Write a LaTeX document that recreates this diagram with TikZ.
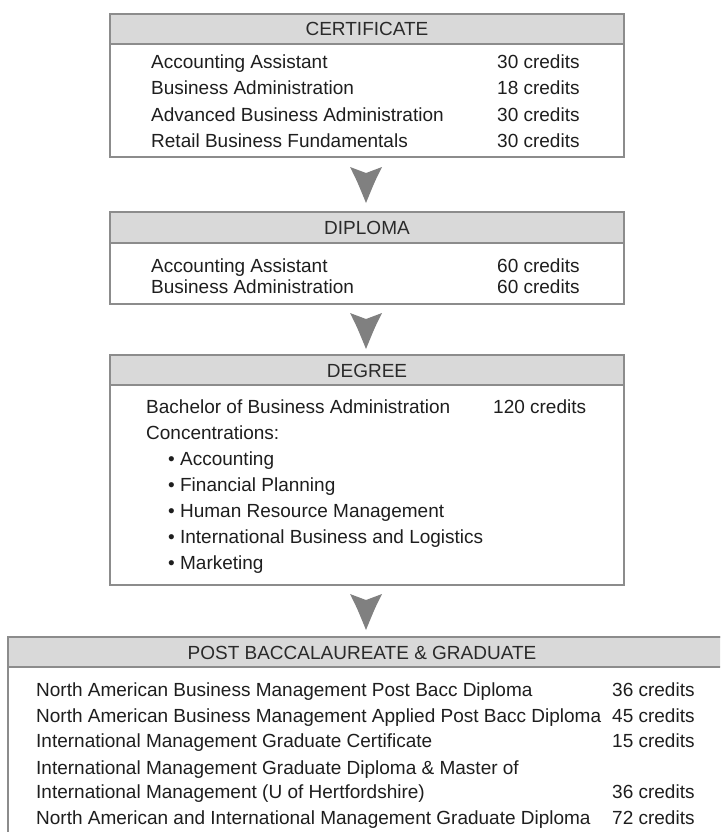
\documentclass[tikz,border=0pt]{standalone}
\usepackage{fontspec}
\setmainfont{Liberation Sans}
\usetikzlibrary{calc}
\definecolor{bordc}{HTML}{8C8C8C}
\definecolor{hdrc}{HTML}{D9D9D9}
\definecolor{txtc}{HTML}{1E1E1E}
\definecolor{ttlc}{HTML}{2A2A2A}
\definecolor{arrc}{HTML}{808080}
\tikzset{
  box/.style={draw=bordc, line width=1.5pt, fill=white, anchor=north west, inner sep=0pt, outer sep=0pt},
  hdr/.style={draw=bordc, line width=1.5pt, fill=hdrc, anchor=north west, inner sep=0pt, outer sep=0pt, minimum height=30pt},
  txt/.style={anchor=base west, inner sep=0pt, text=txtc},
  ttl/.style={anchor=base, inner sep=0pt, text=ttlc},
  chev/.pic={\fill[arrc] (-16,0) -- (0,6) -- (16,0) .. controls (9,14) .. (0,36) .. controls (-9,14) .. (-16,0) -- cycle;}
}
\begin{document}
\begin{tikzpicture}[x=1pt,y=-1pt,font=\fontsize{19}{23}\selectfont]
\useasboundingbox (0,0) rectangle (720,832);
\clip (0,0) rectangle (720,832);
% CERTIFICATE
\node[box, minimum width=514pt, minimum height=143pt] (cert) at (110,14) {};
\node[hdr, minimum width=514pt] (certh) at (110,14) {};
\node[ttl] (certt) at (367,36) {CERTIFICATE};
\node[txt] (c1) at (151,69) {Accounting Assistant};
\node[txt] (c1c) at (497,69) {30 credits};
\node[txt] (c2) at (151,95) {Business Administration};
\node[txt] (c2c) at (497,95) {18 credits};
\node[txt] (c3) at (151,121.5) {Advanced Business Administration};
\node[txt] (c3c) at (497,121.5) {30 credits};
\node[txt] (c4) at (151,147) {Retail Business Fundamentals};
\node[txt] (c4c) at (497,147) {30 credits};
% DIPLOMA
\node[box, minimum width=514pt, minimum height=92pt] (dip) at (110,212) {};
\node[hdr, minimum width=514pt, minimum height=31pt] (diph) at (110,212) {};
\node[ttl] (dipt) at (367,234) {DIPLOMA};
\node[txt] (d1) at (151,272) {Accounting Assistant};
\node[txt] (d1c) at (497,272) {60 credits};
\node[txt] (d2) at (151,293) {Business Administration};
\node[txt] (d2c) at (497,293) {60 credits};
% DEGREE
\node[box, minimum width=514pt, minimum height=230pt] (deg) at (110,355) {};
\node[hdr, minimum width=514pt] (degh) at (110,355) {};
\node[ttl] (degt) at (367,377) {DEGREE};
\node[txt] (g1) at (146,413) {Bachelor of Business Administration};
\node[txt] (g1c) at (493,413) {120 credits};
\node[txt] (g2) at (146,439) {Concentrations:};
\node[txt] (g3) at (168,465) {\textbullet\ Accounting};
\node[txt] (g4) at (168,491) {\textbullet\ Financial Planning};
\node[txt] (g5) at (168,517) {\textbullet\ Human Resource Management};
\node[txt] (g6) at (168,543) {\textbullet\ International Business and Logistics};
\node[txt] (g7) at (168,569) {\textbullet\ Marketing};
% POST BACCALAUREATE & GRADUATE
\node[box, minimum width=730pt, minimum height=260pt] (post) at (8,637) {};
\node[hdr, minimum width=730pt] (posth) at (8,637) {};
\node[ttl] (postt) at (362,659) {POST BACCALAUREATE \& GRADUATE};
\node[txt] (p1) at (36,696) {North American Business Management Post Bacc Diploma};
\node[txt] (p1c) at (612,696) {36 credits};
\node[txt] (p2) at (36,722) {North American Business Management Applied Post Bacc Diploma};
\node[txt] (p2c) at (612,722) {45 credits};
\node[txt] (p3) at (36,747) {International Management Graduate Certificate};
\node[txt] (p3c) at (612,747) {15 credits};
\node[txt] (p4) at (36,774) {International Management Graduate Diploma \& Master of};
\node[txt] (p5) at (36,798) {International Management (U of Hertfordshire)};
\node[txt] (p5c) at (612,798) {36 credits};
\node[txt] (p6) at (36,824) {North American and International Management Graduate Diploma};
\node[txt] (p6c) at (612,824) {72 credits};
% arrows
\pic at ($(cert.south)+(-1,10)$) {chev};
\pic at ($(dip.south)+(-1,9)$) {chev};
\pic at ($(deg.south)+(-1,9)$) {chev};
\end{tikzpicture}
\end{document}
